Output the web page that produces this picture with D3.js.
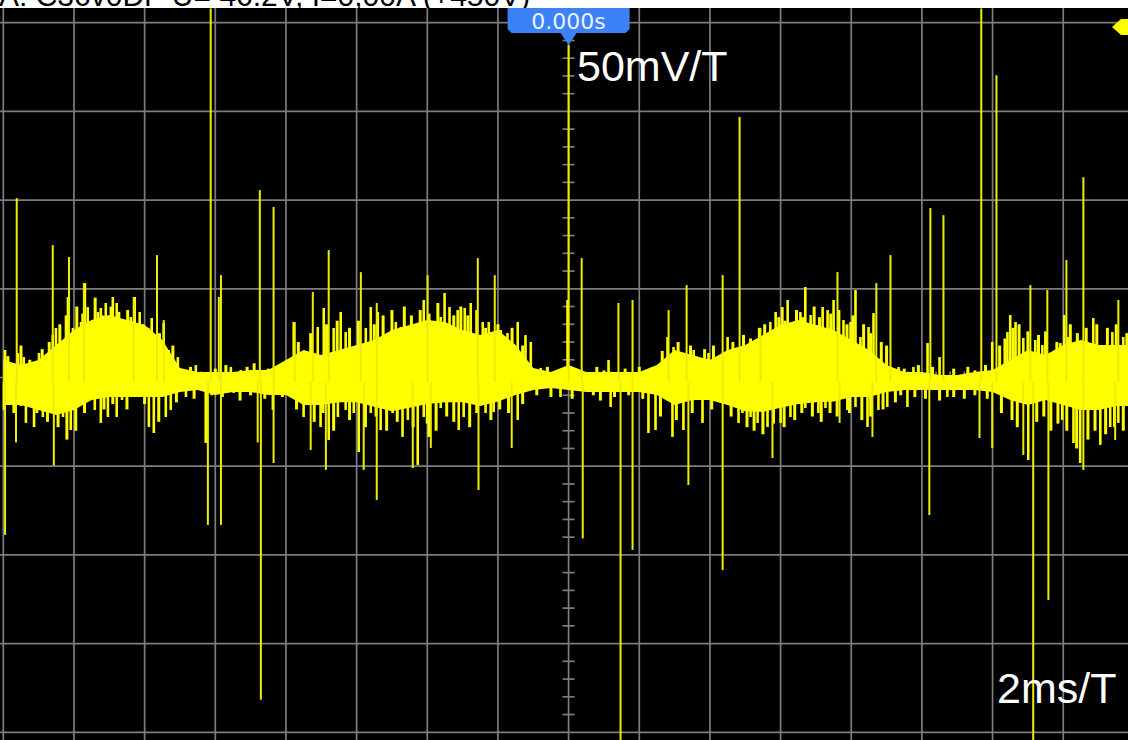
<!DOCTYPE html>
<html><head><meta charset="utf-8">
<script src="https://cdn.jsdelivr.net/npm/d3@7"></script>
<style>html,body{margin:0;padding:0;background:#fff;overflow:hidden}svg{display:block}</style>
</head><body>
<svg id="c" width="1128" height="740"></svg>
<script>
// ---- data (time in ms, voltage in mV) ----
const headerText = "A: C36v0DP U= 46.2V, I=0,00A (+450V)";
const triggerLabel = "0.000s";
const voltLabel = "50mV/T";
const timeLabel = "2ms/T";
const timeTicks = [-16,-14,-12,-10,-8,-6,-4,-2,0,2,4,6,8,10,12,14,16];
const voltTicks = [-200,-150,-100,-50,0,50,100,150,200];

const coreTime = [-16,-15.5,-15,-14.5,-14,-13.5,-13,-12.5,-12,-11.5,-11,-10.5,-10,-9.5,-9,-8.5,-8,-7.5,-7,-6.5,-6,-5.5,-5,-4.5,-4,-3.5,-3,-2.5,-2,-1.5,-1,-0.5,0,0.5,1,1.5,2,2.5,3,3.5,4,4.5,5,5.5,6,6.5,7,7.5,8,8.5,9,9.5,10,10.5,11,11.5,12,12.5,13,13.5,14,14.5,15,15.5,16];
const coreHigh = [9.9,7,9.9,18.3,26.8,32.4,35.2,32.4,29.6,21.1,5.4,3.1,3.1,3.1,4.2,4.2,9.9,15.5,12.7,15.5,18.3,21.1,26.8,29.6,32.4,31.3,26.8,23.9,26.8,18.3,5.4,3.1,7,3.1,3.1,3.1,3.1,7,15.5,12.7,9.9,15.5,18.3,23.9,29.6,32.4,29.6,26.8,21.1,15.5,7,3.1,3.1,1.4,1.4,3.1,4.2,9.9,15.5,12.7,18.3,21.1,18.3,18.3,18.3];
const coreLow = [-15.5,-15.5,-18.3,-21.1,-18.3,-12.7,-11,-11,-11,-11,-8.2,-7,-9.9,-8.2,-8.2,-9.9,-9.9,-15.5,-15.5,-14,-14,-16.5,-19,-17,-15,-14,-14,-16,-13.5,-9.9,-7,-5.9,-7,-8.2,-8.2,-8.2,-8.2,-9.9,-15.5,-12.7,-12.7,-15.5,-19,-19.5,-17,-15,-14,-13.5,-11,-11,-8.2,-7,-7,-7,-7,-7,-8.2,-12.7,-15.5,-12.7,-15.5,-18.3,-18.3,-16,-16];

const tallSpikes = [
 [-15.62,101.1],[-14.60,74.6],[-14.14,67.9],[-13.72,53.2],[-12.31,45.4],[-11.65,69.0],[-11.46,32.4],
 [-10.13,208],[-9.90,45.4],[-9.84,57.7],[-8.74,105.6],[-8.35,96.1],[-7.75,31.3],[-7.24,48.2],
 [-6.79,71.8],[-5.88,59.4],[-5.43,42.0],[-3.99,57.7],[-2.57,67.3],[-2.09,57.7],[0,187.3],[0.37,67.3],
 [1.41,42.0],[1.81,43.7],[2.83,38.0],[3.34,52.1],[4.36,57.7],[4.84,146.8],[5.43,27.9],[7.61,59.4],
 [8.71,53.2],[9.11,69.0],[10.24,95.5],[10.61,91.5],[11.68,208],[12.11,170.4],[13.07,52.1],
 [13.55,49.3],[14.09,66.2],[14.57,112.9],[15.56,43.7],
 [-15.95,-88.7],[-15.64,-36.6],[-14.57,-49.6],[-10.21,-83.1],[-9.84,-83.1],[-8.80,-36.6],
 [-8.71,-181.7],[-8.35,-48.2],[-7.30,-40.8],[-6.87,-52.1],[-5.80,-52.1],[-5.43,-69.0],[-4.41,-51.0],
 [-3.90,-39.7],[-2.55,-63.4],[-1.61,-39.7],[0.40,-90.7],[1.47,-207],[1.81,-97.2],[3.39,-60.6],
 [4.36,-108.5],[5.77,-45.4],[7.67,-25.6],[8.60,-33.5],[10.21,-77.5],[11.63,-34.1],[11.99,-39.7],
 [13.15,-207],[13.58,-125.4],[12.87,-43.7],[14.57,-52.1],[15.47,-35.2]
];

const upNeedles = [
 [-15.95,15.5],[-15.79,8.2],[-15.59,13.8],[-15.42,11.5],[-15.16,4.2],[-14.99,13.8],[-14.80,12.7],
 [-14.60,23.9],[-14.51,27.9],[-14.31,19.4],[-14.17,45.4],[-14.03,27.9],[-13.80,31.3],[-13.69,53.2],
 [-13.61,39.7],[-13.47,28.5],[-13.32,36.9],[-13.24,39.2],[-13.10,42.0],[-13.01,34.1],[-12.90,45.4],
 [-12.79,42.0],[-12.67,28.5],[-12.56,26.8],[-12.39,34.1],[-12.28,45.4],[-12.14,36.9],[-11.99,22.8],
 [-11.80,33.5],[-11.46,30.7],[-11.32,15.5],[-11.06,11.5],[-10.92,4.2],[-10.55,7.0],[-10.41,2.5],
 [-9.56,5.9],[-9.28,4.2],
 [-7.78,31.3],[-7.58,9.9],[-7.44,13.8],[-7.10,28.5],[-6.93,39.2],[-6.65,27.9],[-6.45,36.9],
 [-6.31,25.6],[-6.11,17.2],[-5.74,27.9],[-5.60,39.7],[-5.40,36.9],[-5.12,23.9],[-4.89,31.3],
 [-4.75,28.5],[-4.55,15.5],[-4.33,27.9],[-4.10,43.7],[-3.85,27.9],[-3.62,34.1],[-3.51,47.6],
 [-3.37,39.7],[-3.14,38.0],[-2.94,39.2],[-2.77,42.0],[-2.43,31.3],[-2.26,31.3],[-1.92,26.8],
 [-1.73,25.1],[-1.44,31.3],[-1.22,23.9],[-1.07,20.0],[-0.79,5.4],[-0.45,2.5],[-0.03,43.7],
 [0.57,2.5],[1.13,9.9],
 [2.38,5.9],[2.55,7.0],[2.80,22.8],[2.97,17.2],[3.54,15.5],[3.68,9.9],[3.96,13.8],[4.21,9.9],
 [4.50,22.8],[5.01,11.5],[5.23,17.2],[5.71,31.3],[5.86,36.9],[6.05,39.7],[6.20,43.7],[6.34,29.6],
 [6.56,36.9],[6.70,51.0],[6.85,35.2],[7.02,29.6],[7.19,39.7],[7.33,38.0],[7.50,43.7],[7.78,32.4],
 [7.98,31.3],[8.12,49.3],[8.26,22.8],[8.49,28.5],[8.63,36.3],[9.34,5.9],[9.76,5.9],[10.16,19.4],
 [10.50,11.5],[11.09,1.4],
 [11.99,20.0],[12.42,25.6],[12.50,35.2],[12.65,31.3],[12.87,22.3],[13.21,21.1],[13.41,18.3],
 [13.72,4.2],[13.92,19.4],[14.03,35.2],[14.14,22.8],[14.29,14.4],[14.85,33.5],[15.13,13.8],
 [15.39,25.6],[15.70,22.8]
];

const downNeedles = [
 [-15.98,-18.3],[-15.36,-25.6],[-15.13,-27.9],[-14.88,-22.3],[-14.31,-22.3],[-14.09,-29.6],
 [-13.80,-8.7],[-13.58,-12.7],[-13.41,-18.3],[-13.24,-25.6],[-13.04,-22.3],[-12.79,-22.3],
 [-12.64,-12.7],[-12.39,-8.2],[-12.19,-8.7],[-11.88,-27.9],[-11.74,-31.3],[-11.40,-22.3],
 [-11.26,-18.3],[-10.83,-11.0],[-10.27,-36.9],[-9.48,-8.7],[-8.37,-18.3],
 [-7.86,-11.0],[-7.50,-22.3],[-7.02,-27.9],[-6.79,-35.2],[-6.53,-22.3],[-6.31,-18.3],[-6.08,-20.0],
 [-5.94,-42.0],[-5.60,-20.0],[-5.32,-29.6],[-4.98,-20.0],[-4.70,-33.5],[-4.55,-23.9],[-4.27,-49.3],
 [-4.10,-22.3],[-3.96,-33.5],[-3.62,-17.2],[-3.11,-29.6],[-2.97,-22.3],[-2.35,-20.0],[-2.12,-19.4],
 [-1.84,-8.7],[-1.44,-23.9],[-1.07,-7.0],[-0.23,-11.0],[1.19,-16.6],
 [2.26,-31.3],[2.46,-29.6],[2.94,-33.5],[3.25,-29.6],[3.79,-25.6],[4.81,-25.6],[4.92,-20.0],
 [5.15,-22.3],[5.35,-25.6],[5.63,-27.9],[6.00,-25.6],[6.28,-22.3],[6.70,-17.2],[7.07,-20.0],
 [7.27,-17.2],[7.89,-18.3],[8.12,-16.6],[8.46,-27.9],[8.77,-18.3],[9.02,-16.6],[9.59,-16.6],
 [10.72,-11.0],
 [13.01,-46.5],[13.97,-23.9],[14.29,-36.9],[14.48,-48.2],[15.05,-38.0],[15.33,-27.9],[15.56,-25.6]
];

const fillNeedles = [
 [-15.87,12],[-15.50,18],[-15.25,10],[-14.90,16],[-14.70,20],[-14.40,30],[-14.22,35],[-13.92,40],
 [-13.75,36],[-13.40,45],[-13.18,35],[-12.95,40],[-12.73,37],[-12.48,38],[-12.33,30],[-12.05,30],
 [-11.90,28],[-11.58,25],[-11.20,18],
 [-15.70,-20],[-15.50,-16],[-15.05,-20],[-14.75,-25],[-14.45,-28],[-14.20,-35],[-13.95,-30],
 [-13.70,-20],[-13.15,-18],[-12.90,-15],[-12.50,-18],[-12.00,-15],[-11.60,-25],[-11.10,-14],
 [-7.65,20],[-7.30,25],[-6.85,30],[-6.55,32],[-6.20,28],[-5.95,32],[-5.50,30],[-5.25,35],[-5.00,38],
 [-4.65,40],[-4.45,35],[-4.20,38],[-3.95,36],[-3.70,42],[-3.25,35],[-3.05,40],[-2.85,35],[-2.60,38],
 [-2.35,28],[-2.00,30],[-1.60,28],[-1.30,18],
 [-7.70,-18],[-7.20,-25],[-6.95,-20],[-6.65,-30],[-6.20,-24],[-5.75,-28],[-5.45,-22],[-5.15,-30],
 [-4.85,-25],[-4.40,-28],[-4.00,-26],[-3.75,-30],[-3.45,-22],[-3.25,-25],[-2.80,-28],[-2.60,-20],
 [-2.20,-24],[-1.95,-18],[-1.70,-20],[-1.30,-15],
 [2.65,15],[3.10,20],[3.45,18],[3.85,16],[4.10,18],[4.65,20],[4.95,24],[5.15,22],[5.40,28],[5.55,30],
 [5.95,34],[6.12,32],[6.45,38],[6.62,34],[6.95,40],[7.10,34],[7.42,36],[7.65,38],[7.88,30],[8.05,35],
 [8.35,30],[8.55,25],[8.85,20],[9.00,18],
 [2.60,-22],[3.05,-24],[3.50,-20],[4.05,-18],[4.60,-22],[5.05,-28],[5.25,-30],[5.50,-32],[5.80,-26],
 [6.10,-28],[6.40,-24],[6.60,-20],[6.90,-22],[7.15,-25],[7.40,-20],[7.60,-22],[7.95,-20],[8.30,-24],
 [8.55,-22],[8.90,-18],[9.25,-14],
 [12.20,18],[12.35,22],[12.58,28],[12.75,30],[13.00,26],[13.30,24],[13.50,26],[13.82,20],[14.20,30],
 [14.40,25],[14.65,28],[14.95,30],[15.25,28],[15.50,30],[15.80,25],[15.95,22],
 [12.25,-20],[12.55,-24],[12.70,-28],[13.25,-25],[13.45,-22],[13.65,-30],[13.85,-26],[14.10,-30],
 [14.38,-40],[14.70,-35],[14.90,-30],[15.20,-32],[15.45,-28],[15.70,-30],[15.90,-26],
 [-10.7,6],[-10.0,5],[-9.7,7],[-9.1,6],[-8.9,8],[-8.5,5],[-8.2,7],[-0.6,6],[-0.3,4],[0.2,5],[0.8,6],
 [1.0,4],[1.6,5],[2.0,6],[9.5,5],[9.9,7],[10.3,6],[10.9,5],[11.3,6],[11.5,4],[11.8,7],
 [-10.6,-12],[-10.1,-10],[-9.8,-11],[-9.3,-13],[-9.0,-10],[-8.6,-12],[-8.1,-11],[-0.9,-10],[-0.5,-11],
 [0.1,-12],[0.7,-10],[0.9,-13],[1.3,-11],[1.7,-10],[2.1,-12],[9.4,-10],[9.8,-11],[10.1,-12],
 [10.5,-13],[10.9,-11],[11.2,-12],[11.5,-10],[11.85,-12]
];
const traceBase = -2.5;

// ---- drawing ----
const W = 1128, H = 740;
const svg = d3.select("#c");
const x = d3.scaleLinear().domain([-16,16]).range([3.3, 1133.9]);
const y = d3.scaleLinear().domain([-200,200]).range([732.3, 22.7]);
const panelTop = 8;

svg.append("rect").attr("x",0).attr("y",0).attr("width",W).attr("height",H).attr("fill","#fff");
svg.append("text").attr("x",-1).attr("y",6).attr("font-family","Liberation Sans, Arial, sans-serif")
  .attr("font-size",30).attr("fill","#000").text(headerText);
svg.append("rect").attr("x",0).attr("y",panelTop).attr("width",W).attr("height",H-panelTop).attr("fill","#000");

svg.append("defs").append("clipPath").attr("id","pc").append("rect")
  .attr("x",0).attr("y",panelTop).attr("width",W).attr("height",H-panelTop);
const g = svg.append("g").attr("clip-path","url(#pc)");

const gridCol = "#7d7d7d";
g.selectAll(".vg").data(timeTicks).join("line")
  .attr("x1",d=>x(d)).attr("x2",d=>x(d)).attr("y1",panelTop).attr("y2",H)
  .attr("stroke",gridCol).attr("stroke-width",1.7);
g.selectAll(".hg").data(voltTicks).join("line")
  .attr("y1",d=>y(d)).attr("y2",d=>y(d)).attr("x1",0).attr("x2",W)
  .attr("stroke",gridCol).attr("stroke-width",1.7);
const minorV = d3.range(-200,201,10).filter(v=>v%50!==0);
g.selectAll(".mv").data(minorV).join("line")
  .attr("x1",x(0)-6).attr("x2",x(0)+6).attr("y1",d=>y(d)).attr("y2",d=>y(d))
  .attr("stroke",gridCol).attr("stroke-width",1.7);
const minorT = d3.range(-16,16.01,0.4).filter(t=>Math.abs(t/2-Math.round(t/2))>0.01);
g.selectAll(".mt").data(minorT).join("line")
  .attr("y1",y(0)-6).attr("y2",y(0)+6).attr("x1",d=>x(d)).attr("x2",d=>x(d))
  .attr("stroke",gridCol).attr("stroke-width",1.7);

// trace
const yel = "#ffff00";
const coreData = coreTime.map((t,i)=>({t, hi:coreHigh[i], lo:coreLow[i]}));
g.append("path").datum(coreData)
  .attr("d", d3.area().x(d=>x(d.t)).y0(d=>y(d.lo)).y1(d=>y(d.hi)).curve(d3.curveLinear))
  .attr("fill",yel);
g.selectAll(".fn").data(fillNeedles).join("line")
  .attr("x1",d=>x(d[0])).attr("x2",d=>x(d[0])).attr("y1",y(traceBase)).attr("y2",d=>y(d[1]))
  .attr("stroke",yel).attr("stroke-width",3);
g.selectAll(".un").data(upNeedles.concat(downNeedles)).join("line")
  .attr("x1",d=>x(d[0])).attr("x2",d=>x(d[0])).attr("y1",y(traceBase)).attr("y2",d=>y(d[1]))
  .attr("stroke",yel).attr("stroke-width",2.6);
g.selectAll(".ts").data(tallSpikes).join("line")
  .attr("x1",d=>x(d[0])).attr("x2",d=>x(d[0])).attr("y1",y(traceBase)).attr("y2",d=>y(d[1]))
  .attr("stroke","#eded00").attr("stroke-width",2);

// labels
svg.append("text").attr("x",577).attr("y",81).attr("font-family","Liberation Sans, Arial, sans-serif")
  .attr("font-size",43).attr("fill","#fff").text(voltLabel);
svg.append("text").attr("x",997).attr("y",703).attr("font-family","Liberation Sans, Arial, sans-serif")
  .attr("font-size",43).attr("fill","#fff").text(timeLabel);

// trigger marker
const cx = x(0);
const blue = "#3c82f6";
svg.append("path")
  .attr("d",`M${cx-61},${panelTop} L${cx+61},${panelTop} L${cx+61},${29} L${cx+57},${33} L${cx+8},${33} L${cx},${45} L${cx-8},${33} L${cx-57},${33} L${cx-61},${29} Z`)
  .attr("fill",blue);
svg.append("text").attr("x",cx).attr("y",29).attr("text-anchor","middle")
  .attr("font-family","DejaVu Sans, sans-serif").attr("font-size",22)
  .attr("fill","#eaf2ff").text(triggerLabel);

// trigger level arrow (right)
svg.append("path").attr("d","M1112,27 L1121,19 L1128,19 L1128,35 L1121,35 Z").attr("fill",yel);
</script>
</body></html>
